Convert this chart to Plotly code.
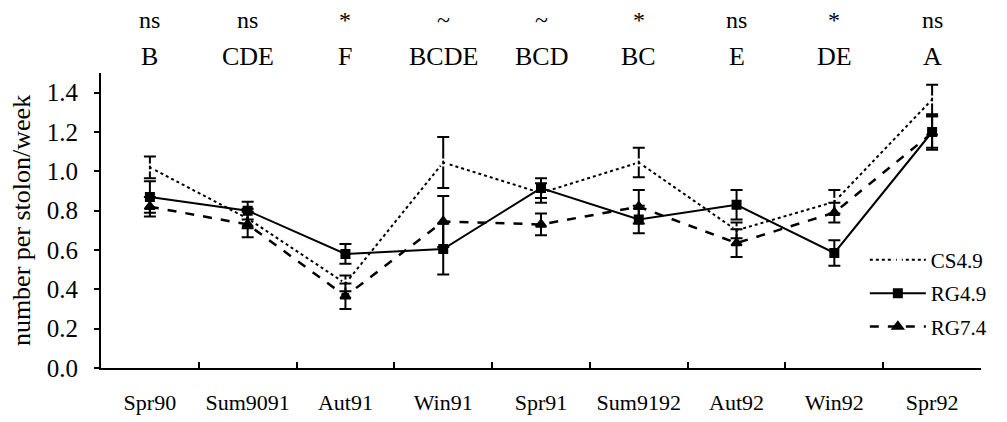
import plotly.graph_objects as go

seasons = ["Spr90", "Sum9091", "Aut91", "Win91", "Spr91", "Sum9192", "Aut92", "Win92", "Spr92"]
signif = ["ns", "ns", "*", "~", "~", "*", "ns", "*", "ns"]
groups = ["B", "CDE", "F", "BCDE", "BCD", "BC", "E", "DE", "A"]

cs49 = [1.02, 0.76, 0.43, 1.045, 0.89, 1.045, 0.70, 0.845, 1.365]
cs49_err = [0.055, 0.05, 0.04, 0.13, 0.05, 0.075, 0.04, 0.06, 0.075]
rg49 = [0.87, 0.80, 0.58, 0.605, 0.915, 0.755, 0.83, 0.585, 1.20]
rg49_err = [0.08, 0.045, 0.05, 0.13, 0.05, 0.07, 0.075, 0.065, 0.08]
rg74 = [0.82, 0.73, 0.365, 0.745, 0.73, 0.82, 0.635, 0.79, 1.195]
rg74_err = [0.05, 0.065, 0.065, 0.13, 0.055, 0.085, 0.07, 0.05, 0.085]

FONT = "Liberation Serif, Times New Roman, serif"
fig = go.Figure()

def add(name, y, err, dash, symbol, msize, mcolor, lw):
    fig.add_trace(go.Scatter(
        x=seasons, y=y, name=name, mode="lines+markers", legendgroup=name,
        line=dict(color="black", width=lw, dash=dash),
        marker=dict(symbol=symbol, size=msize, color=mcolor,
                    line=dict(color="black", width=2)),
        error_y=dict(type="data", array=err, visible=True, color="black",
                     thickness=2, width=6),
    ))

add("CS4.9", cs49, cs49_err, "dot", "circle-open", 6, "white", 2)
add("RG4.9", rg49, rg49_err, "solid", "square", 8, "black", 2)
add("RG7.4", rg74, rg74_err, "dash", "triangle-up", 9, "black", 2.5)

for s, sg, g in zip(seasons, signif, groups):
    fig.add_annotation(x=s, y=1.18, xref="x", yref="paper", text=sg, showarrow=False,
                       font=dict(family=FONT, size=24, color="black"), yanchor="middle")
    fig.add_annotation(x=s, y=1.055, xref="x", yref="paper", text=g, showarrow=False,
                       font=dict(family=FONT, size=26, color="black"), yanchor="middle")

fig.update_layout(
    width=1007, height=422,
    margin=dict(l=101, r=26, t=73, b=54, autoexpand=False),
    paper_bgcolor="white", plot_bgcolor="white",
    font=dict(family=FONT, size=20, color="black"),
    showlegend=True,
    legend=dict(x=0.868, y=0.435, xanchor="left", yanchor="top",
                bgcolor="rgba(0,0,0,0)", font=dict(family=FONT, size=21),
                tracegroupgap=3, itemwidth=56),
    xaxis=dict(type="category", range=[-0.5, 8.5], tickson="boundaries",
               ticks="inside", ticklen=6, tickwidth=1.5, tickcolor="black",
               showline=True, linecolor="black", linewidth=2, showgrid=False,
               zeroline=False, tickfont=dict(family=FONT, size=22),
               ticklabelstandoff=14, automargin=False),
    yaxis=dict(range=[0, 1.5], tickvals=[0, 0.2, 0.4, 0.6, 0.8, 1.0, 1.2, 1.4],
               tickformat=".1f", ticks="outside", ticklen=5, tickwidth=1.5,
               tickcolor="black", showline=True, linecolor="black", linewidth=2,
               showgrid=False, zeroline=False, tickfont=dict(family=FONT, size=25),
               ticklabelstandoff=11, automargin=False,
               title=dict(text="number per stolon/week", font=dict(family=FONT, size=26),
                          standoff=9)),
)

fig.write_html("out.html", config={"displayModeBar": False},
               post_script="document.body.style.margin='0px';")
